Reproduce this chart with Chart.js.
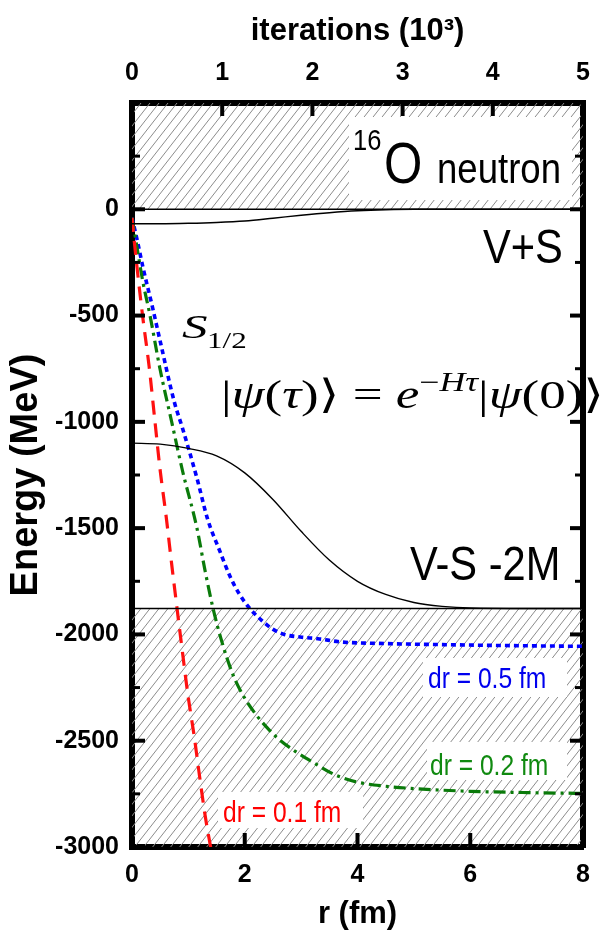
<!DOCTYPE html>
<html>
<head>
<meta charset="utf-8">
<script src="https://cdn.jsdelivr.net/npm/chart.js@4/dist/chart.umd.min.js"></script>
<style>
  html, body { margin: 0; padding: 0; background: #fff; }
  #wrap { width: 607px; height: 934px; }
</style>
</head>
<body>
<div id="wrap"><canvas id="c" width="607" height="934"></canvas></div>
<script>
// Scalar and vector potentials of 16O (neutron), as functions of r (fm)
const rGrid      = [0, 0.5, 1, 1.5, 2, 2.5, 3, 3.5, 4, 4.5, 5, 5.5, 6, 7, 8];
const vPlusS     = [-68, -68, -66, -62, -55, -42, -28, -16, -7, -2, 0, 0, 0, 0, 0];
const vMinusS2M  = [-1100, -1105, -1125, -1160, -1240, -1365, -1515, -1650, -1750, -1812, -1850, -1868, -1876, -1878, -1878];

// s1/2 energy during imaginary-time evolution, vs iterations (10^3)
const itersDr01  = [0, 0.03, 0.06, 0.12, 0.19, 0.25, 0.31, 0.38, 0.44, 0.50, 0.56, 0.62, 0.69, 0.75, 0.81, 0.88];
const energyDr01 = [-40, -170, -290, -510, -740, -980, -1220, -1450, -1670, -1880, -2085, -2285, -2480, -2670, -2850, -3020];

const itersDr02  = [0, 0.06, 0.12, 0.2, 0.31, 0.44, 0.56, 0.72, 0.81, 0.9, 1.0, 1.12, 1.25, 1.38, 1.5, 1.62, 1.81, 2.0, 2.25, 2.5, 2.81, 3.12, 3.75, 4.38, 5.0];
const energyDr02 = [-40, -190, -340, -500, -750, -1000, -1230, -1500, -1700, -1880, -2040, -2190, -2300, -2380, -2440, -2490, -2550, -2600, -2660, -2695, -2714, -2725, -2738, -2744, -2748];

const itersDr05  = [0, 0.06, 0.12, 0.23, 0.31, 0.47, 0.56, 0.72, 0.84, 0.97, 1.09, 1.19, 1.31, 1.44, 1.56, 1.69, 1.88, 2.06, 2.31, 2.81, 3.44, 4.06, 5.0];
const energyDr05 = [-40, -150, -270, -466, -616, -908, -1030, -1265, -1460, -1604, -1730, -1810, -1880, -1935, -1975, -2000, -2013, -2020, -2035, -2043, -2048, -2052, -2056];

// Continuum edges: E = 0 and E = -2M
const continuumEdge = 0;
const diracSeaEdge  = -1878;

// Axis ticks
const yTickLabels    = [0, -500, -1000, -1500, -2000, -2500, -3000];
const rTickLabels    = [0, 2, 4, 6, 8];
const iterTickLabels = [0, 1, 2, 3, 4, 5];

const SANS  = "'Liberation Sans', Arial, sans-serif";
const SERIF = "'Liberation Serif', 'DejaVu Serif', serif";

const pts = (xs, ys) => xs.map((x, i) => ({ x, y: ys[i] }));

function hatch(ctx, x0, y0, x1, y1) {
  ctx.save();
  ctx.beginPath();
  ctx.rect(x0, y0, x1 - x0, y1 - y0);
  ctx.clip();
  ctx.strokeStyle = '#8c8c8c';
  ctx.lineWidth = 1;
  const run = (y1 - y0) / Math.tan(52 * Math.PI / 180);
  ctx.beginPath();
  for (let x = x0 - run; x < x1 + 9; x += 9) {
    ctx.moveTo(x, y1);
    ctx.lineTo(x + run, y0);
  }
  ctx.stroke();
  ctx.restore();
}

// text with a horizontal scale factor k
function ntext(ctx, t, x, y, font, k) {
  ctx.save();
  ctx.translate(x, y);
  ctx.scale(k, 1);
  ctx.font = font;
  ctx.fillText(t, 0, 0);
  ctx.restore();
}

// a run of differently styled pieces, stretched to a given total width
function runs(ctx, x, y, parts, width) {
  let w = 0;
  parts.forEach(p => { ctx.font = p.f; w += ctx.measureText(p.t).width; });
  ctx.save();
  ctx.translate(x, y);
  ctx.scale(width / w, 1);
  let cx = 0;
  parts.forEach(p => {
    ctx.font = p.f;
    ctx.fillText(p.t, cx, p.dy || 0);
    cx += ctx.measureText(p.t).width;
  });
  ctx.restore();
}

const decor = {
  id: 'decor',
  beforeDatasetsDraw(chart) {
    const { ctx, chartArea: a, scales: { y } } = chart;
    hatch(ctx, a.left, a.top, a.right, y.getPixelForValue(continuumEdge));
    hatch(ctx, a.left, y.getPixelForValue(diracSeaEdge), a.right, a.bottom);
  },
  afterDatasetsDraw(chart) {
    const { ctx } = chart;
    ctx.save();
    ctx.fillStyle = '#fff';
    ctx.fillRect(349, 117, 223, 83);
    ctx.fillRect(423, 658, 144, 39);
    ctx.fillRect(427, 742, 140, 38);
    ctx.fillRect(218, 792, 145, 36);

    ctx.textBaseline = 'alphabetic';
    ctx.textAlign = 'left';
    ctx.fillStyle = '#000';
    ntext(ctx, '16', 353, 150, `30px ${SANS}`, 0.85);
    ntext(ctx, 'O', 384, 183, `58px ${SANS}`, 0.85);
    ntext(ctx, 'neutron', 437, 183, `43px ${SANS}`, 0.85);

    ntext(ctx, 'V+S', 483, 263, `49px ${SANS}`, 0.85);
    ntext(ctx, 'V-S -2M', 410, 580, `49px ${SANS}`, 0.85);

    ctx.fillStyle = '#0000ee';
    ntext(ctx, 'dr = 0.5 fm', 428, 688, `30px ${SANS}`, 0.82);
    ctx.fillStyle = '#108a10';
    ntext(ctx, 'dr = 0.2 fm', 430, 775, `30px ${SANS}`, 0.82);
    ctx.fillStyle = '#ff0000';
    ntext(ctx, 'dr = 0.1 fm', 223, 822, `30px ${SANS}`, 0.82);

    // orbital label and evolution formula
    ctx.fillStyle = '#000';
    ntext(ctx, 'S', 182, 338, `italic 33px ${SERIF}`, 1.55);
    ntext(ctx, '1/2', 207, 348, `23px ${SERIF}`, 1.35);

    const n = `40px ${SERIF}`, it = `italic 40px ${SERIF}`;
    const sn = `27px ${SERIF}`, si = `italic 27px ${SERIF}`;
    runs(ctx, 221, 408, [
      { t: '|', f: n }, { t: 'ψ', f: it }, { t: '(', f: n }, { t: 'τ', f: it }, { t: ')', f: n },
      { t: '⟩', f: n }, { t: ' = ', f: n }, { t: 'e', f: it },
      { t: '−', f: sn, dy: -17 }, { t: 'H', f: si, dy: -17 }, { t: 'τ', f: si, dy: -17 },
      { t: '|', f: n }, { t: 'ψ', f: it }, { t: '(0)', f: n }, { t: '⟩', f: n }
    ], 383);
    ctx.restore();
  },
  afterDraw(chart) {
    const { ctx, chartArea: a, scales } = chart;
    ctx.save();
    ctx.strokeStyle = '#000';
    const mark = (x0, y0, x1, y1, w) => {
      ctx.lineWidth = w;
      ctx.beginPath();
      ctx.moveTo(x0, y0);
      ctx.lineTo(x1, y1);
      ctx.stroke();
    };
    scales.y.ticks.forEach(t => {
      const p = scales.y.getPixelForValue(t.value);
      const major = yTickLabels.includes(t.value);
      const L = major ? 13 : 8, w = major ? 4 : 3;
      mark(a.left, p, a.left + L, p, w);
      mark(a.right, p, a.right - L, p, w);
    });
    scales.x.ticks.forEach(t => {
      const p = scales.x.getPixelForValue(t.value);
      mark(p, a.bottom, p, a.bottom - 14, 4);
    });
    scales.x2.ticks.forEach(t => {
      const p = scales.x2.getPixelForValue(t.value);
      mark(p, a.top, p, a.top + 13, 4);
    });
    ctx.restore();
  }
};

Chart.defaults.font.family = SANS;
Chart.defaults.color = '#000';

const thin = { borderColor: '#000', borderWidth: 1.4, pointRadius: 0, fill: false, xAxisID: 'x', yAxisID: 'y' };
const conv = { pointRadius: 0, fill: false, borderWidth: 3.2, xAxisID: 'x2', yAxisID: 'y', cubicInterpolationMode: 'monotone' };
const tickFont = { size: 25, weight: 'bold' };
const titleFont = { size: 31, weight: 'bold', lineHeight: 1 };

new Chart(document.getElementById('c'), {
  type: 'line',
  data: {
    datasets: [
      { ...thin, label: 'V+S', data: pts(rGrid, vPlusS), cubicInterpolationMode: 'monotone' },
      { ...thin, label: 'V-S -2M', data: pts(rGrid, vMinusS2M), cubicInterpolationMode: 'monotone' },
      { ...thin, label: 'E = 0', data: pts([rGrid[0], rGrid[rGrid.length - 1]], [continuumEdge, continuumEdge]) },
      { ...thin, label: 'E = -2M', data: pts([rGrid[0], rGrid[rGrid.length - 1]], [diracSeaEdge, diracSeaEdge]) },
      { ...conv, label: 'dr = 0.1 fm', data: pts(itersDr01, energyDr01), borderColor: '#ff1010', borderDash: [14, 9] },
      { ...conv, label: 'dr = 0.2 fm', data: pts(itersDr02, energyDr02), borderColor: '#0a7a0a', borderDash: [12, 5, 3, 5] },
      { ...conv, label: 'dr = 0.5 fm', data: pts(itersDr05, energyDr05), borderColor: '#0000ff', borderDash: [5, 4], borderWidth: 3.6 }
    ]
  },
  options: {
    responsive: false,
    devicePixelRatio: 1,
    animation: false,
    layout: { padding: { left: 0, right: 24, top: 0, bottom: 0 } },
    plugins: { legend: { display: false }, tooltip: { enabled: false } },
    scales: {
      x: {
        type: 'linear', position: 'bottom', min: 0, max: 8,
        grid: { display: false, drawTicks: false },
        border: { display: true, color: '#000', width: 6 },
        ticks: { stepSize: 2, padding: 13, maxRotation: 0, autoSkip: false, font: tickFont,
                 callback: v => rTickLabels.includes(v) ? String(v) : '' },
        title: { display: true, text: 'r (fm)', font: titleFont, padding: { top: 0, bottom: 4 } },
        afterFit: s => { s.height = 87; s.paddingLeft = 0; s.paddingRight = 0; }
      },
      x2: {
        type: 'linear', position: 'top', min: 0, max: 5,
        grid: { display: false, drawTicks: false },
        border: { display: true, color: '#000', width: 6 },
        ticks: { stepSize: 1, padding: 15, maxRotation: 0, autoSkip: false, font: tickFont,
                 callback: v => iterTickLabels.includes(v) ? String(v) : '' },
        title: { display: true, text: 'iterations (10³)', font: titleFont, padding: { top: 16, bottom: 0 } },
        afterFit: s => { s.height = 103; s.paddingLeft = 0; s.paddingRight = 0; }
      },
      y: {
        type: 'linear', position: 'left', min: -3000, max: 500,
        grid: { display: false, drawTicks: false },
        border: { display: true, color: '#000', width: 6 },
        ticks: { stepSize: 250, padding: 13, autoSkip: false, font: tickFont,
                 callback: v => yTickLabels.includes(v) ? String(v) : '' },
        title: { display: true, text: 'Energy (MeV)', font: { size: 38, weight: 'bold', lineHeight: 1 }, padding: { top: 8, bottom: 0 } },
        afterFit: s => { s.width = 132; }
      },
      y2: {
        type: 'linear', position: 'right', min: -3000, max: 500,
        grid: { display: false, drawTicks: false },
        border: { display: true, color: '#000', width: 6 },
        ticks: { display: false, stepSize: 250 },
        afterFit: s => { s.width = 0; }
      }
    }
  },
  plugins: [decor]
});
</script>
</body>
</html>
